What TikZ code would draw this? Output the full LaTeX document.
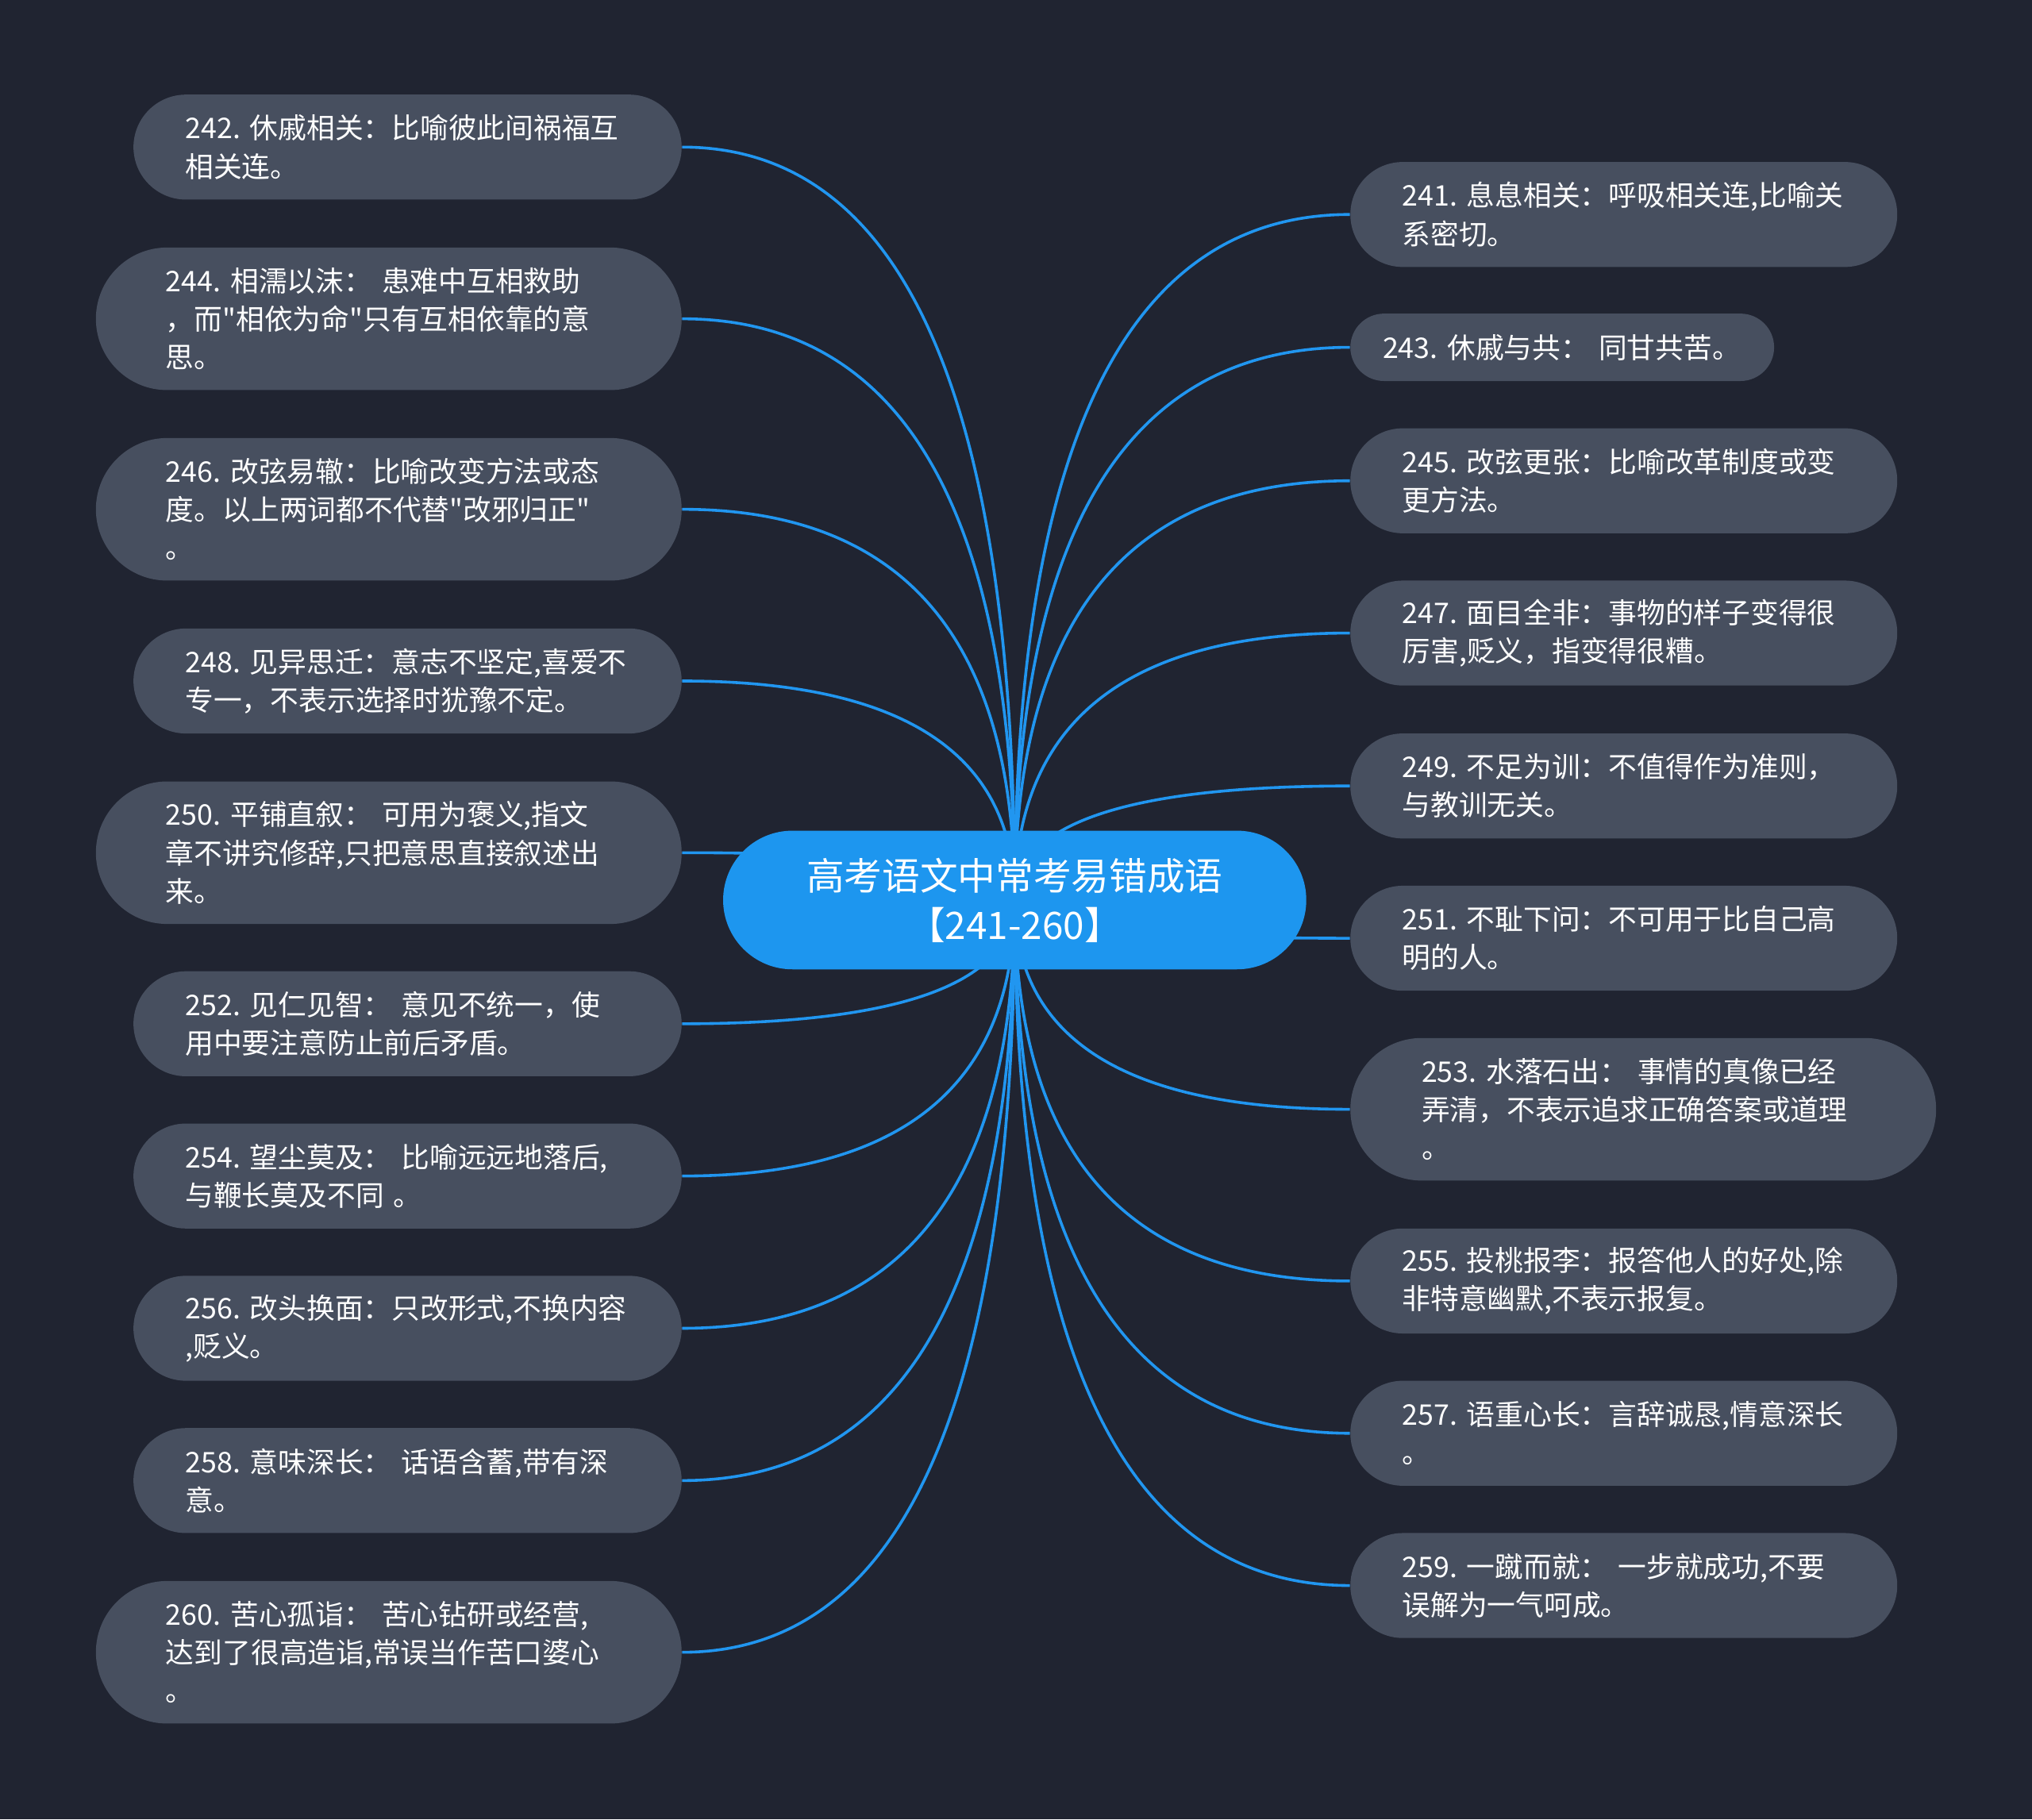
\documentclass[tikz,border=0pt]{standalone}
\usepackage{fontspec}
\setmainfont{Noto Sans CJK SC}[Ligatures=TeXOff]
\usetikzlibrary{calc}
\definecolor{bgc}{HTML}{202431}
\definecolor{leafc}{HTML}{474F5F}
\definecolor{rootc}{HTML}{1D96EF}
\definecolor{edgec}{HTML}{2196F0}
\pgfdeclarelayer{back}
\pgfdeclarelayer{edges}
\pgfsetlayers{back,edges,main}
\newcommand\mmedge[2]{\draw[edge] (#1.center) .. controls ($(#1.center)!0.6667!(#1.center |- #2)$) and ($(#2)!0.6667!(#1.center |- #2)$) .. (#2);}
\begin{document}
\begin{tikzpicture}[x=0.5pt,y=-0.5pt,
  edge/.style={draw=edgec,line width=1.1pt},
  leaf/.style={fill=leafc,text=white,align=left,inner ysep=0pt,font=\fontsize{10.95}{14.75}\selectfont},
  leafLtwo/.style={leaf,minimum width=211.5pt,minimum height=40.5pt,text width=171.5pt,inner xsep=20pt,rounded corners=20.25pt},
  leafLthree/.style={leaf,minimum width=226pt,minimum height=55pt,text width=172pt,inner xsep=27pt,rounded corners=27.5pt},
  leafRtwo/.style={leaf,minimum width=211pt,minimum height=40.5pt,text width=171pt,inner xsep=20pt,rounded corners=20.25pt},
  leafRthree/.style={leaf,minimum width=226pt,minimum height=55pt,text width=171pt,inner xsep=27.5pt,rounded corners=27.5pt},
  leafRone/.style={leaf,minimum width=163.5pt,minimum height=26pt,text width=138.5pt,inner xsep=12.5pt,rounded corners=13pt},
  root/.style={fill=rootc,text=white,align=center,inner sep=0pt,minimum width=225pt,minimum height=53.5pt,rounded corners=26.75pt,font=\fontsize{14.6}{19}\selectfont}
]
\begin{pgfonlayer}{back}
\fill[bgc] (0,0) rectangle (1568,1404);
\end{pgfonlayer}
\useasboundingbox (0,0) rectangle (1568,1404);

\node[root] (c) at (783,694.5) {高考语文中常考易错成语\\【241-260】};

% left column
\node[leafLtwo] (n242) at (314.5,113.5) {242.~休戚相关：比喻彼此间祸福互\\相关连。};
\node[leafLthree] (n244) at (300,246) {244.~相濡以沫：~患难中互相救助\\，而"相依为命"只有互相依靠的意\\思。};
\node[leafLthree] (n246) at (300,393) {246.~改弦易辙：比喻改变方法或态\\度。以上两词都不代替"改邪归正"\\。};
\node[leafLtwo] (n248) at (314.5,525.5) {248.~见异思迁：意志不坚定,喜爱不\\专一，不表示选择时犹豫不定。};
\node[leafLthree] (n250) at (300,658) {250.~平铺直叙：~可用为褒义,指文\\章不讲究修辞,只把意思直接叙述出\\来。};
\node[leafLtwo] (n252) at (314.5,790) {252.~见仁见智：~意见不统一，使\\用中要注意防止前后矛盾。};
\node[leafLtwo] (n254) at (314.5,907.5) {254.~望尘莫及：~比喻远远地落后,\\与鞭长莫及不同~。};
\node[leafLtwo] (n256) at (314.5,1025) {256.~改头换面：只改形式,不换内容\\,贬义。};
\node[leafLtwo] (n258) at (314.5,1142.5) {258.~意味深长：~话语含蓄,带有深\\意。};
\node[leafLthree] (n260) at (300,1275) {260.~苦心孤诣：~苦心钻研或经营,\\达到了很高造诣,常误当作苦口婆心\\。};

% right column
\node[leafRtwo] (n241) at (1253,165.5) {241.~息息相关：呼吸相关连,比喻关\\系密切。};
\node[leafRone] (n243) at (1205.5,268) {243.~休戚与共：~同甘共苦。};
\node[leafRtwo] (n245) at (1253,371) {245.~改弦更张：比喻改革制度或变\\更方法。};
\node[leafRtwo] (n247) at (1253,488.5) {247.~面目全非：事物的样子变得很\\厉害,贬义，指变得很糟。};
\node[leafRtwo] (n249) at (1253,606.5) {249.~不足为训：不值得作为准则，\\与教训无关。};
\node[leafRtwo] (n251) at (1253,724) {251.~不耻下问：不可用于比自己高\\明的人。};
\node[leafRthree] (n253) at (1268,856) {253.~水落石出：~事情的真像已经\\弄清，不表示追求正确答案或道理\\。};
\node[leafRtwo] (n255) at (1253,988.5) {255.~投桃报李：报答他人的好处,除\\非特意幽默,不表示报复。};
\node[leafRtwo] (n257) at (1253,1106) {257.~语重心长：言辞诚恳,情意深长\\。};
\node[leafRtwo] (n259) at (1253,1223.5) {259.~一蹴而就：~一步就成功,不要\\误解为一气呵成。};

\begin{pgfonlayer}{edges}
\mmedge{c}{n242.east}
\mmedge{c}{n244.east}
\mmedge{c}{n246.east}
\mmedge{c}{n248.east}
\mmedge{c}{n250.east}
\mmedge{c}{n252.east}
\mmedge{c}{n254.east}
\mmedge{c}{n256.east}
\mmedge{c}{n258.east}
\mmedge{c}{n260.east}
\mmedge{c}{n241.west}
\mmedge{c}{n243.west}
\mmedge{c}{n245.west}
\mmedge{c}{n247.west}
\mmedge{c}{n249.west}
\mmedge{c}{n251.west}
\mmedge{c}{n253.west}
\mmedge{c}{n255.west}
\mmedge{c}{n257.west}
\mmedge{c}{n259.west}
\end{pgfonlayer}
\end{tikzpicture}
\end{document}
